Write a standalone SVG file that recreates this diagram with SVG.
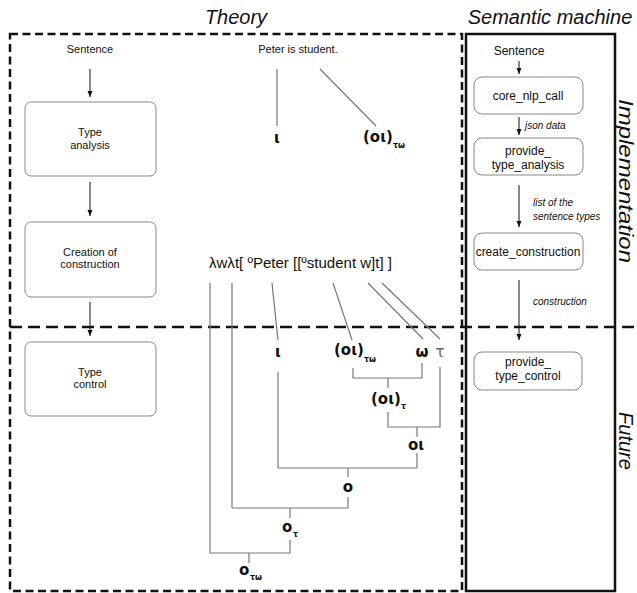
<svg xmlns="http://www.w3.org/2000/svg" width="637" height="593" viewBox="0 0 637 593">
<defs>
<marker id="ah" markerWidth="8" markerHeight="8" refX="6" refY="2.5" orient="auto" markerUnits="userSpaceOnUse"><path d="M0,0 L6,2.5 L0,5 z" fill="#111"/></marker>
<style>
.title{font-family:"Liberation Sans",Arial,sans-serif;font-style:italic;font-size:20px;fill:#111}
.lbl{font-family:"Liberation Sans",Arial,sans-serif;font-size:11px;fill:#111;text-anchor:middle}
.lbl12{font-family:"Liberation Sans",Arial,sans-serif;font-size:12px;fill:#111;text-anchor:middle}
.it{font-family:"Liberation Sans",Arial,sans-serif;font-style:italic;font-size:10px;fill:#111}
.box{fill:#fff;stroke:#888;stroke-width:1}
.arr{stroke:#111;stroke-width:1;fill:none;marker-end:url(#ah)}
.tree{stroke:#777;stroke-width:1.2;fill:none}
.gr{font-family:"DejaVu Sans",sans-serif;font-weight:bold;font-size:15px;fill:#111}
.sub{font-family:"DejaVu Sans",sans-serif;font-weight:bold;font-size:8px;fill:#111}
.expr{font-family:"Liberation Sans",Arial,sans-serif;font-size:14px;fill:#111}
.dash{fill:none;stroke:#111;stroke-width:2.5;stroke-dasharray:8 4.5}
</style>
</defs>

<g id="frames">
<rect class="dash" x="10" y="34" width="452" height="557"/>
<rect x="466" y="34" width="149" height="557" fill="none" stroke="#111" stroke-width="2.5"/>
<line x1="10" y1="327" x2="637" y2="327" stroke="#111" stroke-width="2.5" stroke-dasharray="12 6"/>
</g>

<g id="titles">
<text class="title" x="236" y="24" text-anchor="middle">Theory</text>
<text class="title" x="550" y="24" text-anchor="middle">Semantic machine</text>
<text class="title" transform="translate(619,181) rotate(90)" text-anchor="middle" textLength="164" lengthAdjust="spacingAndGlyphs">Implementation</text>
<text class="title" transform="translate(619,441) rotate(90)" text-anchor="middle">Future</text>
</g>

<g id="connectors">
<line class="arr" x1="90" y1="69" x2="90" y2="97"/>
<line class="arr" x1="90" y1="182" x2="90" y2="216"/>
<line class="arr" x1="90" y1="302" x2="90" y2="336"/>
<line class="arr" x1="519" y1="61" x2="519" y2="74"/>
<line class="arr" x1="519" y1="117" x2="519" y2="135"/>
<line class="arr" x1="519" y1="185" x2="519" y2="227"/>
<line class="arr" x1="519" y1="280" x2="519" y2="340"/>
</g>

<g id="left-sentence"><text class="lbl" x="90" y="53">Sentence</text></g>
<g id="type-analysis">
<rect class="box" x="25" y="102" width="131" height="74" rx="6"/>
<text class="lbl" x="90" y="136">Type</text>
<text class="lbl" x="90" y="149">analysis</text>
</g>
<g id="creation">
<rect class="box" x="25" y="222" width="131" height="75" rx="6"/>
<text class="lbl" x="90" y="256">Creation of</text>
<text class="lbl" x="90" y="268">construction</text>
</g>
<g id="type-control">
<rect class="box" x="25" y="342" width="131" height="74" rx="6"/>
<text class="lbl" x="90" y="376">Type</text>
<text class="lbl" x="90" y="388">control</text>
</g>

<g id="right-sentence"><text class="lbl12" x="519" y="55">Sentence</text></g>
<g id="core-nlp-call">
<rect class="box" x="474" y="77" width="109" height="37" rx="8"/>
<text class="lbl12" x="528" y="100">core_nlp_call</text>
</g>
<g id="provide-type-analysis">
<rect class="box" x="474" y="138" width="109" height="37" rx="8"/>
<text class="lbl12" x="528" y="155">provide_</text>
<text class="lbl12" x="528" y="169">type_analysis</text>
</g>
<g id="create-construction">
<rect class="box" x="474" y="233" width="109" height="37" rx="8"/>
<text class="lbl12" x="528" y="256">create_construction</text>
</g>
<g id="provide-type-control">
<rect class="box" x="474" y="352" width="108" height="38" rx="8"/>
<text class="lbl12" x="528" y="366">provide_</text>
<text class="lbl12" x="528" y="380">type_control</text>
</g>
<g id="edge-labels">
<text class="it" x="525" y="129">json data</text>
<text class="it" x="533" y="206">list of the</text>
<text class="it" x="533" y="220">sentence types</text>
<text class="it" x="533" y="305">construction</text>
</g>

<g id="theory-top">
<text class="lbl" x="298" y="53">Peter is student.</text>
<line class="tree" x1="277" y1="69" x2="277" y2="126"/>
<line class="tree" x1="320" y1="69" x2="376" y2="126"/>
<text class="gr" x="277" y="143" text-anchor="middle">ι</text>
<text class="gr" x="363" y="142">(οι)</text>
<text class="sub" x="393" y="148">τω</text>
</g>

<g id="theory-tree">
<text class="expr" x="209" y="268" textLength="183" lengthAdjust="spacingAndGlyphs">λwλt[ ºPeter [[ºstudent w]t] ]</text>
<line class="tree" x1="210" y1="283" x2="210" y2="553"/>
<line class="tree" x1="232" y1="283" x2="232" y2="508"/>
<line class="tree" x1="272" y1="283" x2="278" y2="340"/>
<line class="tree" x1="333" y1="283" x2="352" y2="340"/>
<line class="tree" x1="368" y1="283" x2="423" y2="339"/>
<line class="tree" x1="382" y1="283" x2="440" y2="339"/>
<text class="gr" x="278" y="357" text-anchor="middle">ι</text>
<text class="gr" x="334" y="355">(οι)</text>
<text class="sub" x="364" y="362">τω</text>
<text class="gr" x="422" y="357" text-anchor="middle">ω</text>
<text class="gr" x="440" y="357" text-anchor="middle" style="fill:#666;font-weight:normal">τ</text>
<line class="tree" x1="278" y1="372" x2="278" y2="468"/>
<path class="tree" d="M353,368 V378 H422 V363"/>
<line class="tree" x1="388" y1="378" x2="388" y2="388"/>
<text class="gr" x="371" y="404">(οι)</text>
<text class="sub" x="401" y="409">τ</text>
<path class="tree" d="M388,412 V427 H440 V367"/>
<line class="tree" x1="417" y1="427" x2="417" y2="437"/>
<text class="gr" x="416" y="450" text-anchor="middle">οι</text>
<line class="tree" x1="417" y1="453" x2="417" y2="468"/>
<line class="tree" x1="278" y1="468" x2="417" y2="468"/>
<line class="tree" x1="348" y1="468" x2="348" y2="477"/>
<text class="gr" x="348" y="492" text-anchor="middle">ο</text>
<line class="tree" x1="348" y1="497" x2="348" y2="508"/>
<line class="tree" x1="232" y1="508" x2="348" y2="508"/>
<line class="tree" x1="290" y1="508" x2="290" y2="518"/>
<text class="gr" x="282" y="532">ο</text>
<text class="sub" x="293" y="537">τ</text>
<line class="tree" x1="290" y1="540" x2="290" y2="553"/>
<line class="tree" x1="210" y1="553" x2="290" y2="553"/>
<line class="tree" x1="249" y1="553" x2="249" y2="563"/>
<text class="gr" x="239" y="575">ο</text>
<text class="sub" x="250" y="580">τω</text>
</g>
</svg>
